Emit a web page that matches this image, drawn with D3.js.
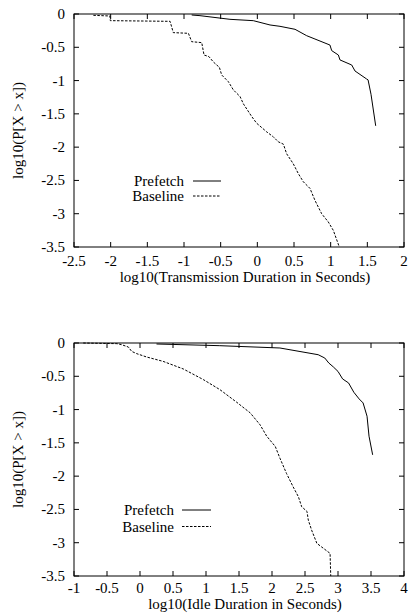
<!DOCTYPE html>
<html><head><meta charset="utf-8">
<script src="https://cdn.jsdelivr.net/npm/d3@7"></script>
<style>
body{margin:0;background:#fff;}
svg text{font-family:"Liberation Serif","Times New Roman",serif;font-size:15px;fill:#000;}
</style></head>
<body><svg id="c" width="409" height="615"></svg>
<script>
// ---- data ----
const xTicksTop = [-2.5,-2,-1.5,-1,-0.5,0,0.5,1,1.5,2];
const xTicksBottom = [-1,-0.5,0,0.5,1,1.5,2,2.5,3,3.5,4];
const yTicks = [0,-0.5,-1,-1.5,-2,-2.5,-3,-3.5];
const seriesNames = ["Prefetch","Baseline"];

const topPrefetch = [
 [-0.895,-0.015],[-0.782,-0.025],[-0.373,-0.08],[-0.055,-0.1],[0.173,-0.165],[0.309,-0.185],
 [0.514,-0.23],[0.673,-0.326],[0.786,-0.376],[0.99,-0.466],[1.014,-0.55],[1.105,-0.616],
 [1.127,-0.69],[1.287,-0.766],[1.332,-0.856],[1.49,-0.976],[1.51,-0.99],[1.55,-1.206],[1.614,-1.68]
];
const topBaseline = [
 [-2.236,-0.02],[-2.01,-0.03],[-2.005,-0.1],[-1.19,-0.11],[-1.146,-0.28],[-0.94,-0.29],
 [-0.895,-0.416],[-0.758,-0.43],[-0.727,-0.616],[-0.66,-0.64],[-0.6,-0.72],[-0.55,-0.77],
 [-0.518,-0.8],[-0.486,-0.916],[-0.395,-1.017],[-0.327,-1.14],[-0.236,-1.24],[-0.19,-1.35],
 [-0.077,-1.54],[-0.01,-1.64],[0.127,-1.77],[0.218,-1.845],[0.286,-1.92],[0.355,-1.955],
 [0.4,-2.1],[0.49,-2.25],[0.56,-2.4],[0.627,-2.52],[0.718,-2.62],[0.786,-2.8],[0.877,-3.0],
 [0.968,-3.124],[1.036,-3.25],[1.118,-3.5]
];
const bottomPrefetch = [
 [0.25,-0.015],[1.2,-0.04],[2.12,-0.075],[2.70,-0.176],[2.80,-0.226],[2.86,-0.3],[2.93,-0.36],
 [3.0,-0.427],[3.07,-0.54],[3.16,-0.6],[3.24,-0.74],[3.32,-0.84],[3.38,-0.9],[3.44,-1.1],
 [3.47,-1.4],[3.525,-1.68]
];
const bottomBaseline = [
 [-0.86,0],[-0.35,-0.01],[-0.28,-0.025],[-0.177,-0.06],[-0.126,-0.126],[-0.05,-0.16],
 [0.10,-0.21],[0.35,-0.276],[0.656,-0.39],[0.96,-0.55],[1.21,-0.70],[1.465,-0.89],
 [1.67,-1.05],[1.82,-1.23],[1.92,-1.40],[2.05,-1.555],[2.12,-1.73],[2.22,-1.96],[2.32,-2.16],
 [2.4,-2.31],[2.45,-2.46],[2.53,-2.53],[2.55,-2.66],[2.6,-2.81],[2.68,-3.01],[2.88,-3.16],
 [2.89,-3.5]
];

const svg = d3.select("#c");

function panel(cfg){
  const g = svg.append("g");
  const x = d3.scaleLinear().domain(cfg.xDomain).range([cfg.left, cfg.right]);
  const y = d3.scaleLinear().domain([-3.5,0]).range([cfg.bottom, cfg.top]);
  const tk = 5;
  const id = "clip"+cfg.key;
  svg.append("clipPath").attr("id",id).append("rect")
    .attr("x",cfg.left).attr("y",cfg.top-1).attr("width",cfg.right-cfg.left).attr("height",cfg.bottom-cfg.top+2);

  // ticks (inward, mirrored)
  cfg.xTicks.forEach(v=>{
    g.append("line").attr("x1",x(v)).attr("x2",x(v)).attr("y1",cfg.bottom).attr("y2",cfg.bottom-tk).attr("stroke","#000");
    g.append("line").attr("x1",x(v)).attr("x2",x(v)).attr("y1",cfg.top).attr("y2",cfg.top+tk).attr("stroke","#000");
    g.append("text").attr("x",x(v)).attr("y",cfg.xTickY).attr("text-anchor","middle").text(v);
  });
  yTicks.forEach(v=>{
    g.append("line").attr("x1",cfg.left).attr("x2",cfg.left+tk).attr("y1",y(v)).attr("y2",y(v)).attr("stroke","#000");
    g.append("line").attr("x1",cfg.right).attr("x2",cfg.right-tk).attr("y1",y(v)).attr("y2",y(v)).attr("stroke","#000");
    g.append("text").attr("x",cfg.left-9).attr("y",y(v)+5).attr("text-anchor","end").text(v);
  });
  g.append("rect").attr("x",cfg.left).attr("y",cfg.top).attr("width",cfg.right-cfg.left)
   .attr("height",cfg.bottom-cfg.top).attr("fill","none").attr("stroke","#000").attr("stroke-width",1);

  const line = d3.line().x(d=>x(d[0])).y(d=>y(d[1]));
  g.append("path").datum(cfg.prefetch).attr("d",line).attr("fill","none")
    .attr("stroke","#000").attr("stroke-width",1).attr("clip-path","url(#"+id+")");
  g.append("path").datum(cfg.baseline).attr("d",line).attr("fill","none")
    .attr("stroke","#000").attr("stroke-width",1).attr("stroke-dasharray","2.5,1.5").attr("clip-path","url(#"+id+")");

  // legend
  const L = cfg.legend;
  seriesNames.forEach((n,i)=>{
    const yy = L.y + i*L.dy;
    g.append("text").attr("x",L.textRight).attr("y",yy+5).attr("text-anchor","end").text(n);
    g.append("line").attr("x1",L.x1).attr("x2",L.x2).attr("y1",yy).attr("y2",yy)
      .attr("stroke","#000").attr("stroke-width",1).attr("stroke-dasharray", i===0?null:"2.5,1.5");
  });

  // axis labels
  g.append("text").attr("x",(cfg.left+cfg.right)/2+6).attr("y",cfg.xTitleY).attr("text-anchor","middle").text(cfg.xTitle);
  const cy=(cfg.top+cfg.bottom)/2;
  g.append("text").attr("transform","translate(23,"+cy+") rotate(-90)").attr("text-anchor","middle").text("log10(P[X > x])");
}

panel({key:"a",left:74,right:404,top:14,bottom:247,xDomain:[-2.5,2],xTicks:xTicksTop,xTickY:266,
  prefetch:topPrefetch,baseline:topBaseline,xTitle:"log10(Transmission Duration in Seconds)",xTitleY:282,
  legend:{textRight:184,x1:193,x2:221,y:181,dy:15}});
panel({key:"b",left:74,right:404,top:343,bottom:576,xDomain:[-1,4],xTicks:xTicksBottom,xTickY:593,
  prefetch:bottomPrefetch,baseline:bottomBaseline,xTitle:"log10(Idle Duration in Seconds)",xTitleY:609,
  legend:{textRight:174,x1:182,x2:211,y:510,dy:16.5}});
</script></body></html>
